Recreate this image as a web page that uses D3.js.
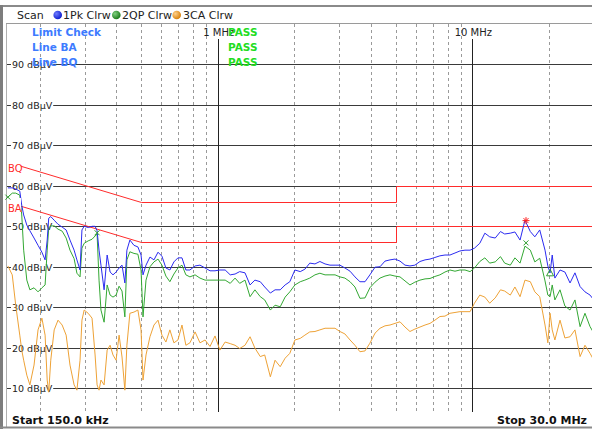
<!DOCTYPE html>
<html><head><meta charset="utf-8">
<script src="https://cdn.jsdelivr.net/npm/d3@7"></script>
<style>
html,body{margin:0;padding:0;background:#fff;}
svg{display:block;font-family:"DejaVu Sans",Verdana,sans-serif;}
</style></head>
<body><svg id="c" width="592" height="429"></svg>
<script>
// ---------- data ----------
const freqMHz = [0.150,0.156,0.161,0.167,0.170,0.173,0.178,0.183,0.190,0.197,0.204,0.210,0.214,0.217,0.221,0.228,0.236,0.245,0.254,0.263,0.273,0.280,0.288,0.293,0.299,0.310,0.321,0.330,0.336,0.342,0.348,0.358,0.368,0.378,0.388,0.399,0.410,0.421,0.432,0.440,0.452,0.469,0.486,0.500,0.509,0.523,0.542,0.562,0.583,0.604,0.626,0.649,0.673,0.698,0.724,0.750,0.778,0.815,0.852,0.892,0.933,0.976,1.02,1.07,1.12,1.17,1.22,1.28,1.34,1.40,1.47,1.53,1.61,1.68,1.76,1.84,1.92,2.01,2.11,2.20,2.30,2.41,2.52,2.64,2.76,2.89,3.02,3.16,3.31,3.46,3.62,3.79,3.96,4.15,4.34,4.54,4.75,4.97,5.20,5.44,5.69,5.95,6.23,6.52,6.82,7.13,7.46,7.81,8.17,8.55,8.94,9.36,9.80,10.2,10.7,11.2,11.7,12.3,12.9,13.4,14.1,14.7,15.4,16.1,16.9,17.6,18.4,19.3,19.8,20.2,20.6,21.1,22.1,23.1,24.2,25.3,26.5,27.7,29.0,30.0];
const pkValues = [59.5,59.5,59.2,58.7,55.2,52.8,50.3,48.9,47.1,45.3,43.6,41.7,46.6,52.0,52.4,51.5,50.5,49.8,49.1,46.6,44.1,41.7,39.2,49.1,50.0,49.7,50.0,50.0,48.9,44.1,40.4,34.3,42.9,38.7,38.0,38.7,39.7,40.4,36.0,44.1,46.6,45.3,44.9,42.9,38.0,40.4,42.4,41.7,43.6,42.6,39.7,39.2,41.2,42.2,42.2,39.2,39.2,40.2,40.4,39.7,39.0,39.0,39.2,39.2,38.0,38.2,38.8,38.5,35.5,36.7,36.3,35.0,33.5,34.3,34.3,35.5,36.3,39.2,38.8,39.4,40.9,40.7,41.3,40.7,40.4,40.4,40.4,39.7,38.9,37.5,36.3,36.3,38.0,39.9,40.0,41.4,41.7,41.9,41.4,40.4,40.2,40.4,41.3,41.7,41.9,42.3,42.7,42.9,42.9,43.4,43.9,44.1,44.1,44.6,45.8,48.3,47.4,47.1,48.7,48.1,48.3,48.6,46.6,51.5,48.7,47.4,49.1,44.1,40.2,38.5,42.9,37.2,39.2,38.7,36.0,38.5,35.1,33.8,33.0,31.8];
const qpValues = [57.2,58.2,58.2,57.7,52.8,44.1,36.7,34.3,34.8,33.8,34.8,35.5,44.1,49.6,50.1,50.1,49.3,48.8,47.1,44.1,42.0,38.4,37.5,44.6,45.8,46.4,46.8,47.6,48.1,36.7,29.3,26.3,35.5,33.0,32.5,33.0,35.2,34.0,27.6,41.7,43.7,43.3,43.1,39.2,27.6,36.7,40.0,41.2,41.9,40.4,37.7,36.3,38.2,39.7,40.4,38.0,37.5,38.0,37.2,36.7,36.7,36.7,36.7,36.7,35.9,37.2,35.9,36.7,32.6,34.3,32.6,31.8,29.3,30.5,30.1,32.5,33.8,35.5,36.3,36.7,37.2,38.0,38.4,38.0,38.0,38.0,37.5,37.2,36.3,35.0,32.2,32.3,34.8,36.2,37.2,37.7,38.0,37.7,37.5,36.5,35.5,36.2,36.7,37.0,37.1,37.6,38.0,38.7,39.2,38.9,39.2,39.2,38.8,39.7,41.3,42.2,40.9,41.2,42.5,40.9,40.4,42.2,40.9,45.1,44.1,41.2,42.1,36.5,33.0,32.6,35.5,31.8,34.3,30.3,29.3,31.8,25.2,28.5,25.2,23.6];
const caValues = [40.2,38.0,30.5,23.1,19.4,16.9,13.2,10.8,15.7,24.4,27.3,23.1,12.0,9.0,16.9,24.4,26.8,25.6,23.1,15.7,10.8,9.5,16.9,26.8,29.3,28.5,27.3,18.2,10.8,9.5,12.0,10.8,19.4,20.6,18.2,16.9,23.1,17.7,9.5,20.6,28.5,28.8,29.3,24.4,12.0,18.2,22.7,25.6,26.8,23.1,21.4,24.4,21.2,21.9,25.6,20.6,21.2,23.9,21.2,21.9,20.3,22.9,19.4,21.4,21.0,20.6,19.8,20.6,22.7,19.9,17.8,18.2,12.8,16.9,15.3,17.4,18.6,21.9,22.3,23.1,23.9,24.0,24.4,24.8,24.8,24.8,24.0,23.4,21.9,20.6,19.0,19.2,21.1,23.6,24.8,25.4,25.6,26.0,26.4,25.1,24.0,24.6,25.1,25.6,26.0,26.8,27.7,27.8,28.5,28.7,28.9,28.9,28.9,31.0,33.0,32.5,31.0,32.3,34.3,34.0,33.0,35.0,32.6,36.7,36.3,33.8,32.6,25.6,21.2,28.5,24.4,21.9,26.8,22.4,22.7,24.4,17.8,20.6,18.6,16.9];
const limitFreq = [0.15,0.5,5.0,5.0,30.0];
const limitBQ = [66,56,56,60,60];
const limitBA = [56,46,46,50,50];
const yTicks = [90,80,70,60,50,40,30,20,10];
const minorFreqs = [0.2,0.3,0.4,0.5,0.6,0.7,0.8,0.9,2,3,4,5,6,7,8,9,20];
const majorFreqs = [1,10];
const majorLabels = ["1 MHz","10 MHz"];
const legendItems = ["1Pk Clrw","2QP Clrw","3CA Clrw"];
const limitRows = ["Limit Check","Line BA","Line BQ"];
const markStar = [16.25,51.4];
const markX = [[16.25,45.9],[0.150,57.2],[0.336,48.4]];
const markTri = [20.2,38.5];

// ---------- drawing ----------
const svg = d3.select("#c");
const W=592,H=429, L=7, T=24, R=592, B=412;
const x = d3.scaleLog().domain([0.15,30]).range([7.9,593.8]);
const y = d3.scaleLinear().domain([0,100]).range([428.6,24]);
const py = v => Math.round(y(v))+0.5;
const colors = {pk:"#2b2bf0", qp:"#33a833", ca:"#eea236", lim:"#ff2b2b"};

svg.append("rect").attr("width",W).attr("height",H).attr("fill","#fff");
// frame
svg.append("rect").attr("x",0).attr("y",5).attr("width",W).attr("height",2).attr("fill","#8a8a8a");
svg.append("rect").attr("x",0).attr("y",5).attr("width",3).attr("height",H-5).attr("fill","#7d7d7d");
svg.append("line").attr("x1",6.5).attr("x2",6.5).attr("y1",23).attr("y2",427).attr("stroke","#b0b0b0");
svg.append("line").attr("x1",6).attr("x2",W).attr("y1",23.5).attr("y2",23.5).attr("stroke","#9a9a9a");
svg.append("rect").attr("x",0).attr("y",426.5).attr("width",W).attr("height",2).attr("fill","#8a8a8a");

// header legend
const hdr = svg.append("g").attr("font-size",11).attr("fill","#222");
hdr.append("text").attr("x",17).attr("y",19).text("Scan");
const defs = svg.append("defs");
[["gb","#6f7cff","#1020d0"],["gg","#7fd07f","#1d7d1d"],["go","#ffd08a","#d98410"]].forEach(([id,a,b])=>{
  const g=defs.append("radialGradient").attr("id",id).attr("cx","35%").attr("cy","35%").attr("r","65%");
  g.append("stop").attr("offset","0%").attr("stop-color",a);
  g.append("stop").attr("offset","100%").attr("stop-color",b);
});
const dotX=[57.7,116.3,176.7], txtX=[63,122,183], grads=["gb","gg","go"];
legendItems.forEach((t,i)=>{
  hdr.append("circle").attr("cx",dotX[i]).attr("cy",15).attr("r",4.3).attr("fill",`url(#${grads[i]})`);
  hdr.append("text").attr("x",txtX[i]).attr("y",19).text(t);
});

// clip
defs.append("clipPath").attr("id","plot").append("rect").attr("x",L).attr("y",T).attr("width",R-L).attr("height",B-T);
const plot = svg.append("g").attr("clip-path","url(#plot)");

// dashed verticals
plot.selectAll("line.minor").data(minorFreqs).join("line")
  .attr("x1",d=>Math.round(x(d))+0.5).attr("x2",d=>Math.round(x(d))+0.5)
  .attr("y1",T).attr("y2",B).attr("stroke","#9a9a9a").attr("stroke-dasharray","3,3");
// horizontal grid
plot.selectAll("line.h").data(yTicks).join("line")
  .attr("x1",L).attr("x2",R).attr("y1",d=>py(d)).attr("y2",d=>py(d))
  .attr("stroke","#3a3a3a");
// major verticals
plot.selectAll("line.major").data(majorFreqs).join("line")
  .attr("x1",d=>Math.round(x(d))+0.5).attr("x2",d=>Math.round(x(d))+0.5)
  .attr("y1",39).attr("y2",B).attr("stroke","#222");

// y labels with white backing
const yl = svg.append("g").attr("font-size",9.5).attr("fill","#222");
yTicks.forEach(v=>{
  const t = yl.append("text").attr("x",12).attr("y",Math.round(y(v))+4).text(v+" dBµV");
  const w = t.node().getComputedTextLength();
  yl.insert("rect","text").attr("x",11).attr("y",Math.round(y(v))-5).attr("width",w+2).attr("height",11).attr("fill","#fff");
});

// limit lines (flat parts pixel-aligned)
const limGen = (xs,ys)=>d3.line().x((d,i)=>Math.round(x(xs[i]))+0.5).y((d,i)=>py(ys[i]))(xs);
const lim = svg.append("g").attr("clip-path","url(#plot)");
lim.append("path").attr("d",limGen(limitFreq,limitBQ)).attr("fill","none").attr("stroke",colors.lim).attr("stroke-width",1);
lim.append("path").attr("d",limGen(limitFreq,limitBA)).attr("fill","none").attr("stroke",colors.lim).attr("stroke-width",1);

// traces
const lineGen = (xs,ys)=>d3.line().x((d,i)=>x(xs[i])).y((d,i)=>y(ys[i]))(xs);
const tr = svg.append("g").attr("clip-path","url(#plot)");
[[caValues,colors.ca],[qpValues,colors.qp],[pkValues,colors.pk]].forEach(([vals,c])=>{
  tr.append("path").attr("d",lineGen(freqMHz,vals)).attr("fill","none").attr("stroke",c).attr("stroke-width",1).attr("stroke-linejoin","round");
});

// limit labels
const ll = svg.append("g").attr("font-size",10).attr("fill",colors.lim);
[["BQ",66],["BA",56]].forEach(([t,v])=>{
  ll.append("rect").attr("x",7).attr("y",y(v)-4).attr("width",14).attr("height",15).attr("fill","#fff");
  ll.append("text").attr("x",8).attr("y",y(v)+10).text(t);
});

// markers
const mk = svg.append("g");
{
  const cx=x(markStar[0]), cy=y(markStar[1]);
  [[0,-3.5,0,3.5],[-3.5,0,3.5,0],[-2.5,-2.5,2.5,2.5],[-2.5,2.5,2.5,-2.5]].forEach(s=>
    mk.append("line").attr("x1",cx+s[0]).attr("y1",cy+s[1]).attr("x2",cx+s[2]).attr("y2",cy+s[3]).attr("stroke","#ff2020"));
}
markX.forEach(([f,v])=>{
  const cx=x(f), cy=y(v);
  mk.append("path").attr("d",`M${cx-2.5},${cy-2.5}L${cx+2.5},${cy+2.5}M${cx-2.5},${cy+2.5}L${cx+2.5},${cy-2.5}`).attr("stroke","#2e9e2e");
});
{
  const cx=x(markTri[0]), cy=y(markTri[1]);
  mk.append("path").attr("d",`M${cx},${cy-3.5}L${cx+3.5},${cy+3}L${cx-3.5},${cy+3}Z`).attr("fill","none").attr("stroke","#2e9e2e");
}

// frequency labels
const fl = svg.append("g").attr("font-size",10).attr("fill","#222").attr("text-anchor","middle");
majorFreqs.forEach((f,i)=>fl.append("text").attr("x",x(f)+1).attr("y",36).text(majorLabels[i]));

// limit check block
const lc = svg.append("g").attr("font-size",10.5).attr("font-weight","bold");
limitRows.forEach((t,i)=>{
  lc.append("text").attr("x",32).attr("y",36+i*15).attr("fill","#3d7bff").text(t);
  lc.append("text").attr("x",228).attr("y",36+i*15).attr("fill","#22dd22").text("PASS");
});

// bottom
const bt = svg.append("g").attr("font-size",11).attr("font-weight","bold").attr("fill","#111");
bt.append("text").attr("x",12).attr("y",424).text("Start 150.0 kHz");
bt.append("text").attr("x",587).attr("y",424).attr("text-anchor","end").text("Stop 30.0 MHz");
</script></body></html>
